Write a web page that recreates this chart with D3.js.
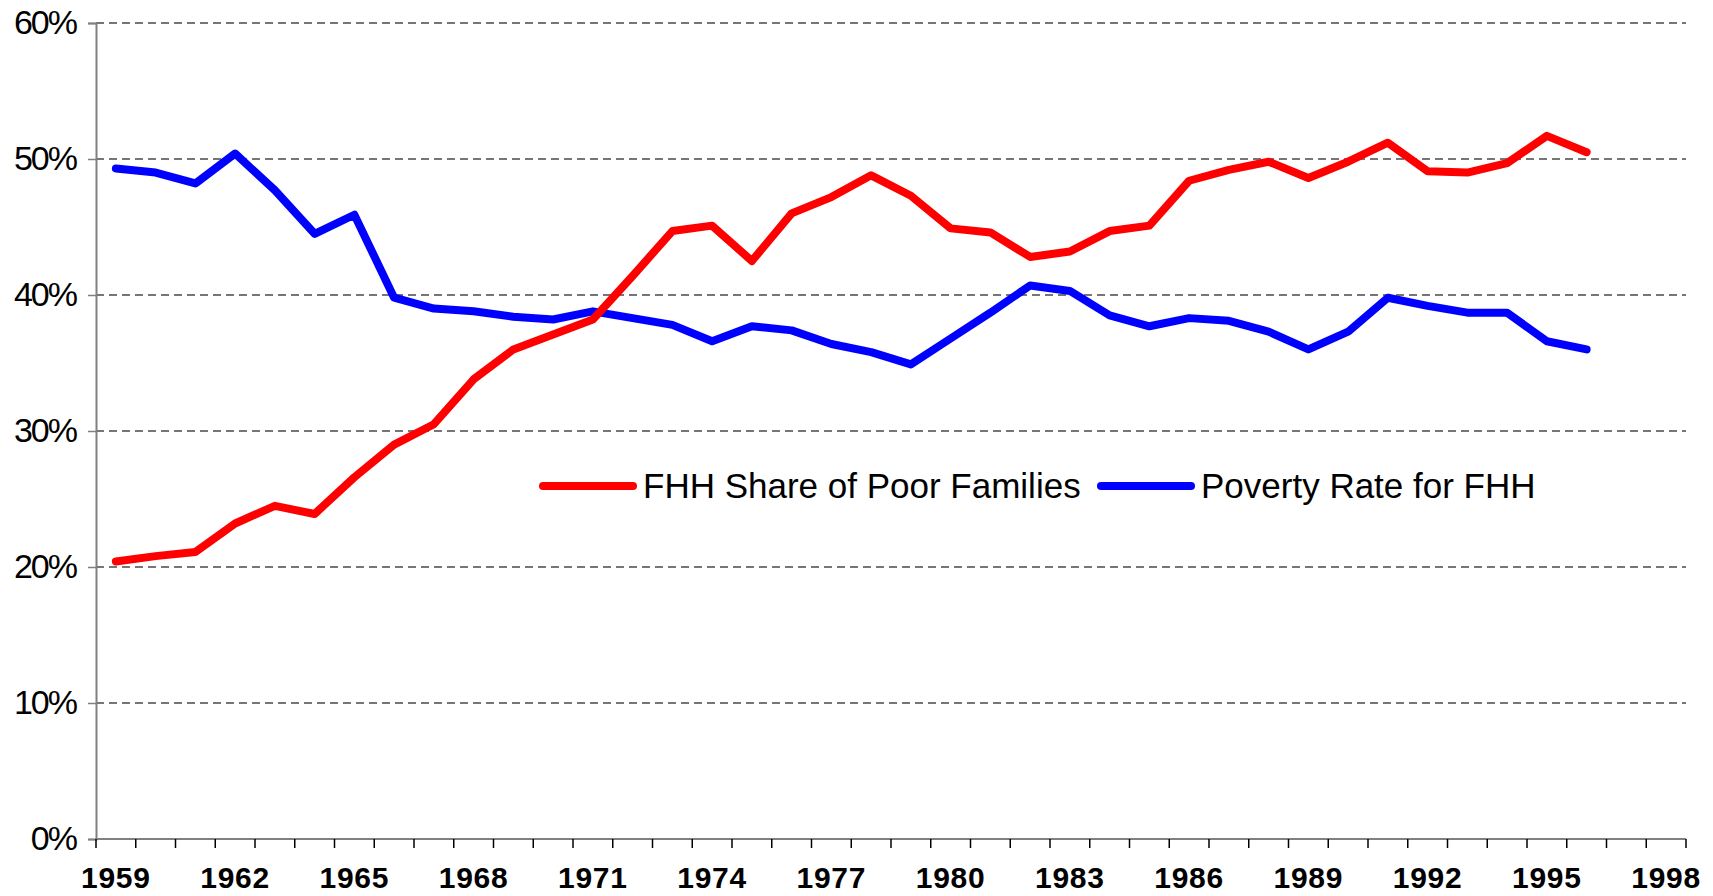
<!DOCTYPE html>
<meta charset="utf-8">
<title>FHH poverty</title>
<style>
    body {
       margin: 0;
       background: #fff;
    }
    text {
       font-family: 'Liberation Sans', 'Arial', sans-serif;
       fill: #000;
    }
    .grid {
      stroke: #4a4a4a;
      stroke-width: 1.3px;
      stroke-dasharray: 8,5;
    }
    .series {
      fill: none;
      stroke-width: 8px;
      stroke-linecap: round;
      stroke-linejoin: round;
    }
</style>
<svg width="1713" height="896"></svg>
<script src="https://cdn.jsdelivr.net/npm/d3@7"></script>
<script>

// categories on the axis run 1959..1998, data stops at 1996
var years = d3.range(1959, 1999);
var dataYears = d3.range(1959, 1997);

var fhhShare = [20.4, 20.8, 21.1, 23.2, 24.5, 23.9, 26.6, 29.0, 30.5, 33.8,
                36.0, 37.1, 38.2, 41.4, 44.7, 45.1, 42.5, 46.0, 47.2, 48.8,
                47.3, 44.9, 44.6, 42.8, 43.2, 44.7, 45.1, 48.4, 49.2, 49.8,
                48.6, 49.8, 51.2, 49.1, 49.0, 49.7, 51.7, 50.5];

var povertyRate = [49.3, 49.0, 48.2, 50.4, 47.7, 44.5, 45.9, 39.8, 39.0, 38.8,
                   38.4, 38.2, 38.8, 38.3, 37.8, 36.6, 37.7, 37.4, 36.4, 35.8,
                   34.9, 36.8, 38.7, 40.7, 40.3, 38.5, 37.7, 38.3, 38.1, 37.3,
                   36.0, 37.3, 39.8, 39.2, 38.7, 38.7, 36.6, 36.0];

var yTicks = [0, 10, 20, 30, 40, 50, 60];
var xLabels = d3.range(1959, 1999, 3);

var seriesNames = ["FHH Share of Poor Families", "Poverty Rate for FHH"];
var seriesColors = ["#ff0000", "#0000ff"];

var svg = d3.select("svg");

var x = d3.scaleBand()
    .domain(years)
    .range([96, 1686])
    .padding(0);

var y = d3.scaleLinear()
    .domain([0, 60])
    .range([839, 23]);

// dashed gridlines
svg.append("g")
  .selectAll("line")
    .data(yTicks.filter(function(d){ return d > 0; }))
    .enter().append("line")
    .attr("class", "grid")
    .attr("x1", x.range()[0])
    .attr("x2", x.range()[1])
    .attr("y1", function(d){ return y(d); })
    .attr("y2", function(d){ return y(d); });

// y axis
var yAxis = d3.axisLeft(y)
    .tickValues(yTicks)
    .tickSize(8)
    .tickPadding(12)
    .tickFormat(function(d){ return d + "%"; });

var gy = svg.append("g")
    .attr("transform", "translate(" + x.range()[0] + ",0)")
    .call(yAxis);
gy.select(".domain").attr("stroke", "#808080").attr("stroke-width", 2);
gy.selectAll(".tick line").attr("stroke", "#808080").attr("stroke-width", 1.5);
gy.selectAll(".tick text")
    .style("font-size", "34px")
    .style("letter-spacing", "-2px")
    .attr("fill", "#000");

// x axis: ticks between categories, labels every 3 years
var gx = svg.append("g")
    .attr("transform", "translate(0," + y(0) + ")");

gx.append("line")
    .attr("x1", x.range()[0])
    .attr("x2", x.range()[1])
    .attr("stroke", "#808080")
    .attr("stroke-width", 2);

gx.selectAll(".tk")
    .data(years.concat([1999]))
    .enter().append("line")
    .attr("class", "tk")
    .attr("x1", function(d){ return d < 1999 ? x(d) : x.range()[1]; })
    .attr("x2", function(d){ return d < 1999 ? x(d) : x.range()[1]; })
    .attr("y1", 0)
    .attr("y2", 9)
    .attr("stroke", "#000")
    .attr("stroke-width", 1.5);

gx.selectAll(".lbl")
    .data(xLabels)
    .enter().append("text")
    .attr("class", "lbl")
    .attr("x", function(d){ return x(d) + x.bandwidth() / 2; })
    .attr("y", 49)
    .attr("text-anchor", "middle")
    .style("font-size", "30px")
    .style("font-weight", "bold")
    .style("letter-spacing", "0.8px")
    .text(function(d){ return d; });

// lines
var line = d3.line()
    .x(function(d){ return x(d[0]) + x.bandwidth() / 2; })
    .y(function(d){ return y(d[1]); });

var series = [povertyRate, fhhShare];
var colors = [seriesColors[1], seriesColors[0]];

svg.selectAll(".series")
    .data(series)
    .enter().append("path")
    .attr("class", "series")
    .attr("stroke", function(d, i){ return colors[i]; })
    .attr("d", function(d){
        return line(d.map(function(v, i){ return [dataYears[i], v]; }));
    });

// legend
var legendX = [543, 1101];
var legend = svg.selectAll(".legend")
    .data(seriesNames)
    .enter().append("g")
    .attr("class", "legend")
    .attr("transform", function(d, i){ return "translate(" + legendX[i] + ",486)"; });

legend.append("line")
    .attr("x1", 0)
    .attr("x2", 90)
    .attr("stroke", function(d, i){ return seriesColors[i]; })
    .attr("stroke-width", 8)
    .attr("stroke-linecap", "round");

legend.append("text")
    .attr("x", 100)
    .attr("y", 12)
    .style("font-size", "35px")
    .text(function(d){ return d; });

</script>
